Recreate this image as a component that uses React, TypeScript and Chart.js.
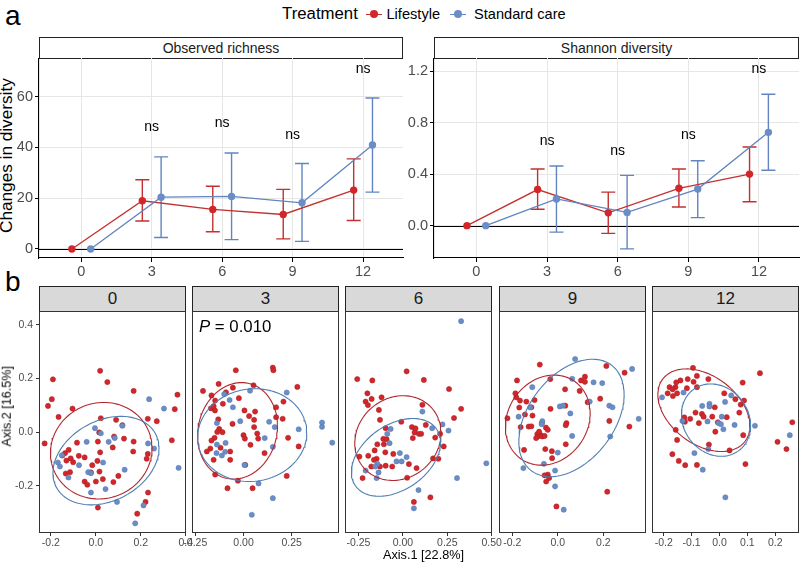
import React, { useEffect, useRef } from 'react';
import { Chart, registerables } from 'chart.js';

Chart.register(...registerables);

const FONT = '"Liberation Sans", Arial, Helvetica, sans-serif';
Chart.defaults.font.family = FONT;

const RED = '#D3262B';
const RED_LINE = '#C4302F';
const BLUE = '#6B8DC7';
const BLUE_LINE = '#6285C0';
const RED_ELL = '#B0282E';
const BLUE_ELL = '#4E7EB2';

// ---------------- Panel a data ----------------
const months = [0, 3, 6, 9, 12];
const richnessLifestyle = [0, 19.0, 15.6, 13.6, 23.2];
const richnessLifestyleLo = [0, 11.0, 6.8, 4.0, 11.2];
const richnessLifestyleHi = [0, 27.3, 24.7, 23.5, 35.5];
const richnessStandard = [0, 20.4, 20.7, 18.2, 41.0];
const richnessStandardLo = [0, 4.5, 3.7, 3.0, 22.4];
const richnessStandardHi = [0, 36.3, 37.8, 33.7, 59.5];
const richnessNsY = [null, 47.8, 49.5, 44.9, 70.9];
const richnessTicks = [0, 20, 40, 60];

const shannonLifestyle = [0, 0.28, 0.10, 0.29, 0.40];
const shannonLifestyleLo = [0, 0.127, -0.06, 0.145, 0.186];
const shannonLifestyleHi = [0, 0.44, 0.26, 0.44, 0.61];
const shannonStandard = [0, 0.207, 0.103, 0.284, 0.724];
const shannonStandardLo = [0, -0.05, -0.18, 0.062, 0.43];
const shannonStandardHi = [0, 0.463, 0.39, 0.504, 1.02];
const shannonNsY = [null, 0.657, 0.58, 0.70, 1.215];
const shannonTicks = [0, 0.4, 0.8, 1.2];

// ---------------- Panel b data (PCoA Axis.1, Axis.2) ----------------
const pcoa0Lifestyle = [[0.019,0.229],[0.051,0.187],[-0.191,0.197],[-0.196,0.123],[-0.213,0.098],[-0.166,0.057],[-0.104,0.088],[-0.228,-0.042],[0.168,0.154],[0.363,0.140],[0.351,0.086],[0.271,0.041],[0.231,0.050],[0.022,0.052],[0.090,0.046],[0.118,0.026],[0.015,-0.001],[0.081,-0.016],[0.125,-0.024],[0.168,-0.035],[0.338,-0.030],[-0.084,-0.039],[0.009,-0.035],[0.075,-0.057],[0.019,-0.075],[0.166,-0.072],[0.231,-0.081],[0.226,-0.099],[-0.121,-0.066],[-0.137,-0.078],[-0.149,-0.087],[-0.112,-0.098],[-0.076,-0.088],[-0.050,-0.094],[-0.131,-0.106],[-0.101,-0.112],[0.007,-0.107],[-0.016,-0.123],[-0.134,-0.154],[-0.115,-0.149],[0.016,-0.147],[-0.022,-0.150],[0.100,-0.163],[-0.050,-0.184],[-0.038,-0.196],[0.000,-0.184],[0.031,-0.175],[0.078,-0.186],[0.232,-0.225],[0.221,-0.260],[0.184,-0.304],[0.009,-0.281]];
const pcoa0Standard = [[0.237,0.123],[0.303,0.088],[0.118,0.024],[-0.004,0.015],[0.022,-0.004],[-0.041,-0.036],[0.057,-0.036],[0.084,-0.022],[0.232,-0.042],[0.259,-0.061],[-0.151,-0.086],[-0.169,-0.113],[-0.160,-0.128],[-0.075,-0.123],[0.032,-0.113],[-0.122,-0.169],[-0.034,-0.149],[-0.022,-0.153],[0.128,-0.140],[0.043,-0.212],[-0.022,-0.225],[0.094,-0.260],[0.212,-0.273],[0.175,-0.340],[0.368,-0.133]];
const pcoa3Lifestyle = [[-0.040,0.231],[0.152,0.241],[0.155,0.231],[-0.210,0.154],[-0.129,0.180],[-0.055,0.166],[0.052,0.175],[0.279,0.169],[-0.166,0.137],[-0.147,0.118],[-0.091,0.149],[-0.024,0.127],[-0.169,0.089],[-0.155,0.097],[-0.148,0.081],[-0.107,0.106],[0.005,0.081],[0.029,0.060],[0.060,0.077],[0.169,0.093],[0.207,0.114],[0.169,0.056],[0.203,0.050],[-0.131,0.048],[-0.057,0.031],[0.055,0.046],[0.055,0.019],[-0.126,0.012],[-0.136,0.001],[-0.109,0.000],[-0.150,-0.021],[-0.166,-0.031],[0.000,-0.011],[0.007,-0.024],[0.071,-0.005],[0.076,-0.024],[0.036,-0.047],[0.231,-0.021],[0.286,-0.053],[-0.172,-0.061],[-0.190,-0.072],[-0.119,-0.058],[-0.069,-0.072],[-0.155,-0.103],[0.109,-0.078],[-0.069,-0.103],[-0.147,-0.158],[-0.029,-0.181],[-0.083,-0.209],[0.047,-0.209],[0.224,-0.163],[0.009,-0.122]];
const pcoa3Standard = [[0.034,0.155],[-0.100,0.142],[0.224,0.148],[-0.072,0.120],[-0.055,0.093],[-0.017,0.041],[0.133,0.039],[0.162,0.019],[0.286,0.011],[0.407,0.036],[0.407,0.020],[0.460,-0.039],[0.110,-0.022],[0.152,-0.055],[-0.093,-0.040],[-0.138,-0.046],[-0.140,-0.078],[-0.095,-0.073],[-0.112,-0.087],[0.005,-0.122],[0.078,-0.191],[0.152,-0.246],[0.043,-0.308],[-0.138,0.034]];
const pcoa6Lifestyle = [[0.021,0.227],[0.118,0.195],[-0.257,0.198],[-0.172,0.193],[-0.200,0.145],[-0.176,0.124],[-0.210,0.114],[-0.197,0.101],[0.260,0.161],[0.328,0.087],[0.288,0.053],[-0.135,0.083],[-0.120,0.130],[-0.129,0.046],[0.110,0.102],[-0.009,0.039],[0.051,0.019],[0.071,0.014],[0.066,-0.001],[0.090,-0.006],[0.103,-0.006],[0.056,-0.022],[0.129,0.027],[0.182,-0.020],[0.210,-0.006],[0.230,-0.053],[-0.097,0.015],[-0.110,-0.025],[-0.107,-0.045],[-0.099,-0.075],[-0.144,-0.045],[-0.159,-0.068],[-0.148,-0.099],[-0.163,-0.103],[-0.245,-0.091],[-0.178,-0.128],[-0.129,-0.128],[-0.097,-0.125],[-0.060,-0.128],[-0.054,-0.081],[0.034,-0.119],[0.077,-0.134],[0.170,-0.098],[0.200,-0.099],[-0.227,-0.171],[0.024,-0.170],[0.062,-0.260],[0.155,-0.243],[-0.195,-0.088],[-0.092,-0.026]];
const pcoa6Standard = [[0.328,0.414],[0.110,0.077],[-0.069,0.012],[-0.088,-0.006],[0.257,0.006],[0.223,0.029],[-0.075,-0.041],[-0.017,-0.078],[-0.036,-0.109],[-0.007,-0.109],[0.021,-0.093],[-0.144,-0.118],[-0.155,-0.128],[-0.137,-0.150],[-0.210,-0.143],[-0.148,-0.171],[0.470,-0.116],[0.305,-0.171],[0.088,-0.216],[0.062,-0.284],[0.165,0.015]];
const pcoa9Lifestyle = [[-0.079,0.252],[0.213,0.247],[0.293,0.222],[-0.179,0.193],[-0.033,0.198],[0.119,0.207],[0.102,0.193],[0.119,0.188],[0.096,0.154],[0.032,0.160],[-0.186,0.145],[-0.182,0.130],[-0.166,0.118],[-0.138,0.114],[-0.102,0.120],[-0.169,0.092],[-0.116,0.093],[-0.144,0.066],[-0.111,0.062],[0.186,0.125],[0.131,0.112],[-0.032,0.087],[0.033,0.099],[-0.221,0.052],[-0.070,0.034],[-0.163,0.019],[-0.128,0.021],[-0.116,0.022],[-0.052,0.017],[-0.044,0.009],[0.038,0.034],[0.035,0.026],[0.226,0.042],[0.314,0.021],[-0.090,-0.007],[-0.076,-0.010],[-0.087,-0.016],[-0.068,-0.016],[-0.095,-0.022],[-0.058,-0.014],[-0.082,0.002],[0.035,-0.045],[-0.148,-0.066],[-0.055,-0.063],[-0.026,-0.071],[-0.025,-0.097],[-0.044,-0.158],[-0.058,-0.161],[-0.051,-0.184],[-0.038,-0.171],[0.217,-0.222],[-0.006,-0.277]];
const pcoa9Standard = [[0.076,0.273],[0.326,0.236],[0.063,0.199],[0.157,0.186],[0.195,0.183],[-0.112,0.168],[-0.121,0.092],[0.009,0.096],[0.023,0.099],[0.055,0.070],[0.226,0.099],[0.240,0.093],[0.140,0.114],[0.355,0.050],[-0.172,0.058],[-0.068,0.041],[-0.071,0.030],[0.063,-0.014],[0.230,-0.016],[0.000,-0.076],[-0.061,-0.118],[-0.151,-0.134],[-0.012,-0.143],[-0.012,-0.202],[0.026,-0.289]];
const pcoa12Lifestyle = [[-0.095,0.240],[0.145,0.220],[-0.081,0.210],[-0.140,0.193],[-0.114,0.198],[-0.093,0.188],[-0.040,0.198],[0.083,0.185],[-0.179,0.168],[-0.158,0.168],[-0.155,0.186],[-0.168,0.160],[-0.186,0.145],[-0.167,0.135],[-0.152,0.145],[-0.117,0.164],[-0.081,0.168],[0.017,0.145],[-0.017,0.093],[0.057,0.123],[0.088,0.118],[0.076,0.103],[0.071,0.073],[-0.086,0.073],[-0.063,0.068],[-0.057,0.058],[-0.026,0.058],[-0.105,0.050],[-0.126,0.055],[-0.124,0.039],[-0.074,0.034],[0.026,0.056],[-0.006,0.037],[-0.157,0.009],[-0.015,0.002],[0.085,-0.011],[-0.152,-0.029],[-0.038,-0.046],[0.036,-0.068],[-0.169,-0.082],[-0.146,-0.107],[-0.123,-0.123],[-0.081,-0.122],[0.093,-0.119],[0.261,0.037],[0.208,-0.036],[0.240,-0.063]];
const pcoa12Standard = [[-0.206,0.130],[-0.129,0.148],[0.042,0.137],[0.020,0.113],[-0.036,0.106],[-0.036,0.096],[-0.062,0.098],[0.008,0.058],[-0.043,0.040],[-0.004,0.034],[0.005,0.030],[0.014,0.011],[0.054,0.027],[0.127,0.024],[0.252,-0.011],[-0.040,-0.063],[-0.090,-0.078],[-0.060,-0.140],[0.021,-0.243],[-0.133,0.042]];

// ellipse: [centre x, centre y, half-extent x, half-extent y, correlation]
const ellipse0Lifestyle = [0.024, -0.069, 0.226, 0.180, 0.05];
const ellipse0Standard = [0.045, -0.106, 0.236, 0.165, 0.28];
const ellipse3Lifestyle = [-0.031, 0.005, 0.207, 0.180, 0.10];
const ellipse3Standard = [0.045, -0.011, 0.283, 0.173, 0.05];
const ellipse6Lifestyle = [-0.028, -0.022, 0.243, 0.158, 0.12];
const ellipse6Standard = [-0.039, -0.094, 0.251, 0.145, 0.38];
const ellipse9Lifestyle = [-0.044, 0.045, 0.186, 0.168, 0.15];
const ellipse9Standard = [0.060, 0.053, 0.231, 0.219, 0.40];
const ellipse12Lifestyle = [-0.056, 0.082, 0.165, 0.154, -0.38];
const ellipse12Standard = [-0.0125, 0.045, 0.124, 0.135, -0.15];

const facetTitles = ['0', '3', '6', '9', '12'];
const axis2Ticks = [-0.2, 0, 0.2, 0.4];
const axis2Range = [-0.376, 0.452];
const axis1Ranges = [[-0.253, 0.401], [-0.267, 0.495], [-0.326, 0.502], [-0.258, 0.387], [-0.242, 0.285]];
const axis1Ticks = [[-0.2, 0, 0.2, 0.4], [-0.25, 0, 0.25], [-0.25, 0, 0.25, 0.5], [-0.2, 0, 0.2], [-0.2, -0.1, 0, 0.1, 0.2]];
const axis1Decimals = [1, 2, 2, 1, 1];

// ---------------- helpers ----------------
const DODGE = 0.4;
const CAP = 7;

const axisFit = (size: number) => (scale: any) => {
  if (scale.isHorizontal()) scale.height = size; else scale.width = size;
  scale.paddingLeft = 0; scale.paddingRight = 0; scale.paddingTop = 0; scale.paddingBottom = 0;
};
const fixedTicks = (vals: number[]) => (scale: any) => {
  scale.ticks = vals.map((v) => ({ value: v }));
};

function ChartCanvas({ left, top, width, height, config }: any) {
  const ref = useRef<HTMLCanvasElement>(null);
  useEffect(() => {
    const chart = new Chart(ref.current as HTMLCanvasElement, config);
    return () => chart.destroy();
  }, []);
  return (
    <canvas ref={ref} width={width} height={height}
      style={{ position: 'absolute', left, top, width, height }} />
  );
}

function Txt({ x, y, size, children, align = 'left', italic = false, color = '#000' }: any) {
  const w = 1000;
  const left = align === 'left' ? x : align === 'center' ? x - w / 2 : x - w;
  return (
    <div style={{
      position: 'absolute', left, top: y - 0.8465 * size, width: w, height: size,
      lineHeight: `${size}px`, fontSize: size, fontFamily: FONT, color, whiteSpace: 'nowrap',
      textAlign: align, fontStyle: italic ? 'italic' : 'normal',
    }}>{children}</div>
  );
}

function VTxt({ cx, cy, size, children }: any) {
  const w = 400;
  return (
    <div style={{
      position: 'absolute', left: cx - w / 2, top: cy - size / 2, width: w, height: size,
      lineHeight: `${size}px`, fontSize: size, fontFamily: FONT, color: '#000', whiteSpace: 'nowrap',
      textAlign: 'center', transform: 'rotate(-90deg)',
    }}>{children}</div>
  );
}

function Strip({ left, top, width, height, bg, size, children }: any) {
  return (
    <div style={{
      position: 'absolute', left, top, width, height, boxSizing: 'border-box',
      border: '1px solid #222', background: bg, display: 'flex', alignItems: 'center',
      justifyContent: 'center', fontFamily: FONT, fontSize: size, color: '#1a1a1a',
    }}>{children}</div>
  );
}

type Series = { label: string; values: number[]; lo: number[]; hi: number[]; color: string; line: string; dx: number };

function diversityConfig(series: Series[], nsY: (number | null)[], yRange: number[], yTicks: number[], yDec: number, yWidth: number, padRight: number) {
  const extras = {
    id: 'extras',
    beforeDatasetsDraw(chart: any) {
      const { ctx, chartArea, scales: { x, y } } = chart;
      ctx.save();
      const y0 = Math.round(y.getPixelForValue(0)) + 0.5;
      ctx.strokeStyle = '#000';
      ctx.lineWidth = 1.1;
      ctx.beginPath();
      ctx.moveTo(chartArea.left, y0);
      ctx.lineTo(chartArea.right, y0);
      ctx.stroke();
      for (const s of series) {
        ctx.strokeStyle = s.line;
        ctx.lineWidth = 1.4;
        months.forEach((m, i) => {
          if (s.hi[i] === s.lo[i]) return;
          const px = x.getPixelForValue(m + s.dx);
          const pl = y.getPixelForValue(s.lo[i]);
          const ph = y.getPixelForValue(s.hi[i]);
          ctx.beginPath();
          ctx.moveTo(px, pl); ctx.lineTo(px, ph);
          ctx.moveTo(px - CAP, pl); ctx.lineTo(px + CAP, pl);
          ctx.moveTo(px - CAP, ph); ctx.lineTo(px + CAP, ph);
          ctx.stroke();
        });
      }
      ctx.restore();
    },
    afterDatasetsDraw(chart: any) {
      const { ctx, scales: { x, y } } = chart;
      ctx.save();
      ctx.fillStyle = '#000';
      ctx.font = `14px ${FONT}`;
      ctx.textAlign = 'center';
      ctx.textBaseline = 'alphabetic';
      months.forEach((m, i) => {
        const v = nsY[i];
        if (v === null) return;
        ctx.fillText('ns', x.getPixelForValue(m), y.getPixelForValue(v) + 3.6);
      });
      ctx.restore();
    },
  };
  return {
    type: 'scatter',
    data: {
      datasets: series.map((s) => ({
        label: s.label,
        data: months.map((m, i) => ({ x: m + s.dx, y: s.values[i] })),
        showLine: true,
        borderColor: s.line,
        borderWidth: 1.3,
        pointRadius: 3.7,
        pointBackgroundColor: s.color,
        pointBorderColor: s.color,
        pointBorderWidth: 0,
      })),
    },
    options: {
      animation: false,
      responsive: false,
      events: [],
      layout: { autoPadding: false, padding: { left: 0, right: padRight, top: 0, bottom: 0 } },
      plugins: { legend: { display: false }, tooltip: { enabled: false } },
      scales: {
        x: {
          type: 'linear', min: -1.8, max: 13.7,
          afterBuildTicks: fixedTicks(months),
          afterFit: axisFit(22),
          grid: { color: '#e6e6e6', lineWidth: 1, tickColor: '#000', tickLength: 4 },
          border: { color: '#000', width: 1.1 },
          ticks: { color: '#4d4d4d', font: { size: 14.5 }, padding: 1, maxRotation: 0, minRotation: 0, autoSkip: false, callback: (v: any) => String(v) },
        },
        y: {
          type: 'linear', min: yRange[0], max: yRange[1],
          afterBuildTicks: fixedTicks(yTicks),
          afterFit: axisFit(yWidth),
          grid: { color: '#e6e6e6', lineWidth: 1, tickColor: '#000', tickLength: 4 },
          border: { color: '#000', width: 1.1 },
          ticks: { color: '#4d4d4d', font: { size: 14.5 }, padding: 2, autoSkip: false, callback: (v: any) => Number(v).toFixed(yDec) },
        },
      },
    },
    plugins: [extras],
  };
}

function ellipsePoints(e: number[]) {
  const [cx, cy, sx, sy, r] = e;
  const q = Math.sqrt(1 - r * r);
  const pts = [];
  for (let k = 0; k <= 120; k++) {
    const t = (k / 120) * 2 * Math.PI;
    pts.push({ x: cx + sx * Math.cos(t), y: cy + sy * (r * Math.cos(t) + q * Math.sin(t)) });
  }
  return pts;
}

const panelBorder = {
  id: 'panelBorder',
  afterDatasetsDraw(chart: any) {
    const { ctx, chartArea: { left, top, right, bottom } } = chart;
    ctx.save();
    ctx.strokeStyle = '#333';
    ctx.lineWidth = 1;
    ctx.strokeRect(left + 0.5, top + 0.5, right - left - 1, bottom - top - 1);
    ctx.restore();
  },
};

function pcoaConfig(idx: number, life: number[][], std: number[][], lifeEll: number[], stdEll: number[], showY: boolean, yWidth: number, pad: number) {
  const toPts = (arr: number[][]) => arr.map(([x, y]) => ({ x, y }));
  return {
    type: 'scatter',
    data: {
      datasets: [
        { data: ellipsePoints(stdEll), showLine: true, borderColor: BLUE_ELL, borderWidth: 1.1, pointRadius: 0, fill: false },
        { data: ellipsePoints(lifeEll), showLine: true, borderColor: RED_ELL, borderWidth: 1.1, pointRadius: 0, fill: false },
        { data: toPts(std), pointRadius: 2.6, pointBackgroundColor: BLUE, pointBorderColor: '#5579B0', pointBorderWidth: 0.5 },
        { data: toPts(life), pointRadius: 2.6, pointBackgroundColor: RED, pointBorderColor: '#A81E24', pointBorderWidth: 0.5 },
      ],
    },
    options: {
      animation: false,
      responsive: false,
      events: [],
      layout: { autoPadding: false, padding: { left: showY ? 0 : pad, right: pad, top: 0, bottom: 0 } },
      plugins: { legend: { display: false }, tooltip: { enabled: false } },
      scales: {
        x: {
          type: 'linear', min: axis1Ranges[idx][0], max: axis1Ranges[idx][1],
          afterBuildTicks: fixedTicks(axis1Ticks[idx]),
          afterFit: axisFit(20),
          grid: { drawOnChartArea: false, tickColor: '#333', tickLength: 3 },
          border: { display: false },
          ticks: { color: '#4d4d4d', font: { size: 10.5 }, padding: 1, maxRotation: 0, minRotation: 0, autoSkip: false, callback: (v: any) => Number(v).toFixed(axis1Decimals[idx]) },
        },
        y: {
          type: 'linear', display: showY, min: axis2Range[0], max: axis2Range[1],
          afterBuildTicks: fixedTicks(axis2Ticks),
          afterFit: axisFit(showY ? yWidth : 0),
          grid: { drawOnChartArea: false, tickColor: '#333', tickLength: 3 },
          border: { display: false },
          ticks: { color: '#4d4d4d', font: { size: 10.5 }, padding: 3, autoSkip: false, callback: (v: any) => Number(v).toFixed(1) },
        },
      },
    },
    plugins: [panelBorder],
  };
}

const facetData = [
  [pcoa0Lifestyle, pcoa0Standard, ellipse0Lifestyle, ellipse0Standard],
  [pcoa3Lifestyle, pcoa3Standard, ellipse3Lifestyle, ellipse3Standard],
  [pcoa6Lifestyle, pcoa6Standard, ellipse6Lifestyle, ellipse6Standard],
  [pcoa9Lifestyle, pcoa9Standard, ellipse9Lifestyle, ellipse9Standard],
  [pcoa12Lifestyle, pcoa12Standard, ellipse12Lifestyle, ellipse12Standard],
];

const PANEL_LEFTS = [39, 192, 345, 499, 652];
const PANEL_W = 147;
const PANEL_TOP = 311;
const PANEL_H = 222;
const PAD = 14;

export default function App() {
  const richSeries: Series[] = [
    { label: 'Standard care', values: richnessStandard, lo: richnessStandardLo, hi: richnessStandardHi, color: BLUE, line: BLUE_LINE, dx: DODGE },
    { label: 'Lifestyle', values: richnessLifestyle, lo: richnessLifestyleLo, hi: richnessLifestyleHi, color: RED, line: RED_LINE, dx: -DODGE },
  ];
  const shanSeries: Series[] = [
    { label: 'Standard care', values: shannonStandard, lo: shannonStandardLo, hi: shannonStandardHi, color: BLUE, line: BLUE_LINE, dx: DODGE },
    { label: 'Lifestyle', values: shannonLifestyle, lo: shannonLifestyleLo, hi: shannonLifestyleHi, color: RED, line: RED_LINE, dx: -DODGE },
  ];

  return (
    <div style={{ position: 'absolute', left: 0, top: 0, width: 800, height: 562, background: '#fff', overflow: 'hidden', fontFamily: FONT }}>
      {/* panel labels */}
      <Txt x={5} y={26} size={28}>a</Txt>
      <Txt x={5} y={292} size={28}>b</Txt>

      {/* legend */}
      <Txt x={282} y={20.7} size={16.8}>Treatment</Txt>
      <div style={{ position: 'absolute', left: 366, top: 13.5, width: 16, height: 1.5, background: RED_LINE }} />
      <div style={{ position: 'absolute', left: 370, top: 10.3, width: 8, height: 8, borderRadius: 4, background: RED }} />
      <Txt x={386.5} y={19.5} size={14.6}>Lifestyle</Txt>
      <div style={{ position: 'absolute', left: 450, top: 13.5, width: 16, height: 1.5, background: BLUE_LINE }} />
      <div style={{ position: 'absolute', left: 453.7, top: 10.3, width: 8, height: 8, borderRadius: 4, background: BLUE }} />
      <Txt x={474} y={19.5} size={14.6}>Standard care</Txt>

      {/* panel a */}
      <VTxt cx={7.3} cy={155.5} size={17.2}>Changes in diversity</VTxt>
      <Strip left={39} top={37} width={364} height={22} bg="#fff" size={14}>Observed richness</Strip>
      <Strip left={434} top={37} width={365} height={22} bg="#fff" size={14}>Shannon diversity</Strip>
      <ChartCanvas left={0} top={58} width={405} height={222}
        config={diversityConfig(richSeries, richnessNsY, [-3.55, 75.25], richnessTicks, 0, 39, 2)} />
      <ChartCanvas left={400} top={58} width={400} height={222}
        config={diversityConfig(shanSeries, shannonNsY, [-0.251, 1.301], shannonTicks, 1, 34, 1)} />

      {/* panel b */}
      <VTxt cx={7.3} cy={406.7} size={12.6}>Axis.2 [16.5%]</VTxt>
      <Txt x={423.5} y={559.5} size={12.7} align="center">Axis.1 [22.8%]</Txt>
      {facetData.map((f, i) => (
        <Strip key={'s' + i} left={PANEL_LEFTS[i]} top={286} width={PANEL_W} height={26} bg="#d9d9d9" size={17}>{facetTitles[i]}</Strip>
      ))}
      {facetData.map((f, i) => {
        const showY = i === 0;
        const left = showY ? 0 : PANEL_LEFTS[i] - PAD;
        const width = showY ? PANEL_LEFTS[0] + PANEL_W + PAD : PANEL_W + 2 * PAD;
        return (
          <ChartCanvas key={'c' + i} left={left} top={PANEL_TOP} width={width} height={PANEL_H + 20}
            config={pcoaConfig(i, f[0] as number[][], f[1] as number[][], f[2] as number[], f[3] as number[], showY, PANEL_LEFTS[0], PAD)} />
        );
      })}
      <div style={{ position: 'absolute', left: 199, top: 333.3 - 0.8465 * 16.8, height: 16.8, lineHeight: '16.8px', fontSize: 16.8, fontFamily: FONT, whiteSpace: 'nowrap' }}>
        <span style={{ fontStyle: 'italic' }}>P</span> = 0.010
      </div>
    </div>
  );
}
